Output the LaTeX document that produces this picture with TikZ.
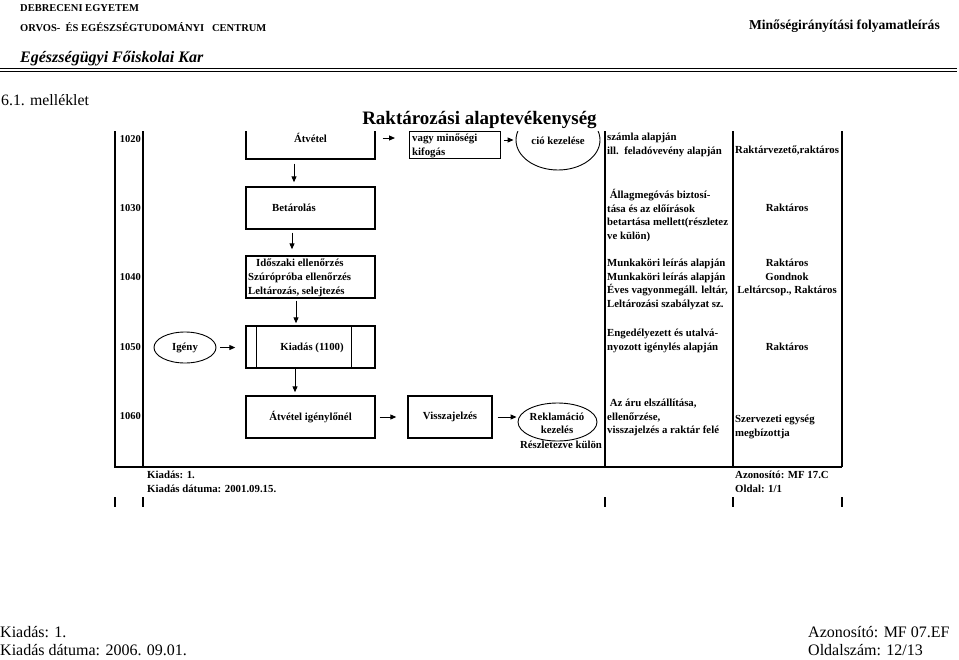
\documentclass[tikz,border=0pt]{standalone}
\usepackage{fontspec}
\setmainfont{Liberation Serif}
\usetikzlibrary{shapes.geometric,arrows.meta,positioning}

\newcommand\tabfont{\fontsize{10.8}{13.7}\selectfont\bfseries}

\begin{document}
\begin{tikzpicture}
[
  x=1pt, y=-1pt,
  every node/.style={inner sep=0pt},
  txt/.style={anchor=base west, align=left, font=\tabfont},
  ctxt/.style={anchor=base, align=center, font=\tabfont},
  rowno/.style={anchor=base east, font=\fontsize{10.5}{12}\selectfont\bfseries},
  procbox/.style={rectangle, draw, line width=1.4pt, minimum width=129pt, minimum height=42pt, font=\tabfont},
  oval/.style={ellipse, draw, line width=.9pt, font=\tabfont, align=center},
  flow/.style={-{Triangle[length=6pt,width=5pt]}, line width=1pt},
  rule/.style={line width=1.4pt}
]
\useasboundingbox (0,0) rectangle (959,659);

% header
\node (univ) [anchor=base west, font=\fontsize{10.5}{12}\selectfont\bfseries] at (20,11) {DEBRECENI EGYETEM};
\node (centrum) [anchor=base west, font=\fontsize{10.5}{12}\selectfont\bfseries] at (20,31) {ORVOS-\ \ ÉS EGÉSZSÉGTUDOMÁNYI\ \ \ CENTRUM};
\node (kar) [anchor=base west, font=\fontsize{16}{18}\selectfont\bfseries\itshape] at (20,62) {Egészségügyi Főiskolai Kar};
\node (folyamat) [anchor=base east, font=\fontsize{13.6}{15}\selectfont\bfseries] at (940,29.5) {Minőségirányítási folyamatleírás};
\draw [line width=.9pt] (0,68) -- (957,68) (0,71) -- (957,71);
\node (mell) [anchor=base west, font=\fontsize{15.8}{18}\selectfont] at (1,105) {6.1. melléklet};

% table, top rows cut off
\begin{scope}
\clip (0,131) rectangle (959,659);
\draw [rule] (115,131) -- (115,467) -- (842,467);
\foreach \x in {143,605,733,842}
  \draw [rule] (\x,131) -- (\x,467);

\node (r1020) [rowno] at (141,142) {1020};
\node (r1030) [rowno] at (141,211.5) {1030};
\node (r1040) [rowno] at (141,280.5) {1040};
\node (r1050) [rowno] at (141,350.5) {1050};
\node (r1060) [rowno] at (141,419.5) {1060};

% flow column
\node (atvetel) [procbox] at (310.5,138) {Átvétel};
\node (kifogas) [draw, line width=.8pt, minimum width=91pt, minimum height=27pt, anchor=north west] at (409,131) {};
\node (tkifogas) [txt] at (412,155.5) {vagy minőségi\\kifogás};
\node (reklam1) [oval, minimum width=84pt, minimum height=60pt] at (558,140) {};
\node (treklam1) [ctxt] at (558,144.5) {Reklamá-\\ció kezelése};

\node (betarolas) [procbox] at (310.5,208) {};
\node (tbetar) [txt] at (272,211.5) {Betárolás};

\node (ellenorzes) [procbox] at (310.5,277) {};
\node (tellen1) [txt] at (256,266.5) {Időszaki ellenőrzés};
\node (tellen2) [txt] at (248,294.2) {Szúrópróba ellenőrzés\\Leltározás, selejtezés};

\node (igeny) [oval, minimum width=62pt, minimum height=31pt] at (185,347.5) {Igény};
\node (kiadas) [procbox] at (310.5,347) {};
\draw [line width=1pt] ([xshift=11pt]kiadas.north west) -- ([xshift=11pt]kiadas.south west)
  ([xshift=-24pt]kiadas.north east) -- ([xshift=-24pt]kiadas.south east);
\node (tkiadas) [ctxt] at (312,350.5) {Kiadás (1100)};

\node (atvig) [procbox] at (310.5,417) {Átvétel igénylőnél};
\node (vissza) [procbox, minimum width=84pt] at (450,417) {Visszajelzés};
\node (reklam2) [oval, minimum width=79pt, minimum height=38pt] at (557.5,422) {};
\node (treklam2) [ctxt] at (557,433.8) {Reklamáció\\kezelés};
\node (reszlet) [ctxt] at (561,448.5) {Részletezve külön};

\draw [flow, shorten <=7pt, shorten >=14pt] (atvetel.east) -- (atvetel.east -| kifogas.west);
\draw [flow, shorten <=3pt, shorten >=2pt] (reklam1.west -| kifogas.east) -- (reklam1.west);
\draw [flow, shorten <=4pt, shorten >=4pt] ([xshift=-16.5pt]atvetel.south) -- ([xshift=-16.5pt]betarolas.north);
\draw [flow, shorten <=3pt, shorten >=6pt] ([xshift=-18.5pt]betarolas.south) -- ([xshift=-18.5pt]ellenorzes.north);
\draw [flow, shorten <=2pt, shorten >=2pt] ([xshift=-14.5pt]ellenorzes.south) -- ([xshift=-14.5pt]kiadas.north);
\draw [flow, shorten >=3pt] ([xshift=-15.5pt]kiadas.south) -- ([xshift=-15.5pt]atvig.north);
\draw [flow, shorten <=4pt, shorten >=10pt] (igeny.east) -- (igeny.east -| kiadas.west);
\draw [flow, shorten <=4pt, shorten >=11pt] (atvig.east) -- (vissza.west);
\draw [flow, shorten <=5pt, shorten >=1pt] (vissza.east) -- (vissza.east -| reklam2.west);

% description column
\node (d1020) [txt] at (607,154) {számla alapján\\ill.\ \ feladóvevény alapján};
\node (d1030) [txt] at (607,239.6) {\ Állagmegóvás biztosí-\\tása és az előírások\\betartása mellett(részletez\\ve külön)};
\node (d1040) [txt] at (607,307.6) {Munkaköri leírás alapján\\Munkaköri leírás alapján\\Éves vagyonmegáll. leltár,\\Leltározási szabályzat sz.};
\node (d1050) [txt] at (607,350.2) {Engedélyezett és utalvá-\\nyozott igénylés alapján};
\node (d1060) [txt] at (607,433.9) {\ Az áru elszállítása,\\ellenőrzése,\\visszajelzés a raktár felé};

% responsible column
\node (f1020) [txt] at (735,153.5) {Raktárvezető,raktáros};
\node (f1030) [ctxt] at (787,211.5) {Raktáros};
\node (f1040) [ctxt] at (787,293.9) {Raktáros\\Gondnok\\Leltárcsop., Raktáros};
\node (f1050) [ctxt] at (787,350.5) {Raktáros};
\node (f1060) [txt] at (735,436.2) {Szervezeti egység\\megbízottja};
\end{scope}

\node (title) [anchor=base, font=\fontsize{19}{22}\selectfont\bfseries] at (479.5,124) {Raktározási alaptevékenység};

% old footer under the table
\node (kiad1) [txt] at (147,492.2) {Kiadás: 1.\\Kiadás dátuma: 2001.09.15.};
\node (azon1) [txt] at (735,492.2) {Azonosító: MF 17.C\\Oldal: 1/1};
\foreach \x in {115,143,605,733,842}
  \draw [rule] (\x,497) -- (\x,507);

% page footer
\node (kiad2) [anchor=base west, align=left, font=\fontsize{16}{18}\selectfont] at (0,655) {Kiadás: 1.\\Kiadás dátuma: 2006. 09.01.};
\node (azon2) [anchor=base west, align=left, font=\fontsize{16}{18}\selectfont] at (808,655) {Azonosító: MF 07.EF\\Oldalszám: 12/13};
\end{tikzpicture}
\end{document}
